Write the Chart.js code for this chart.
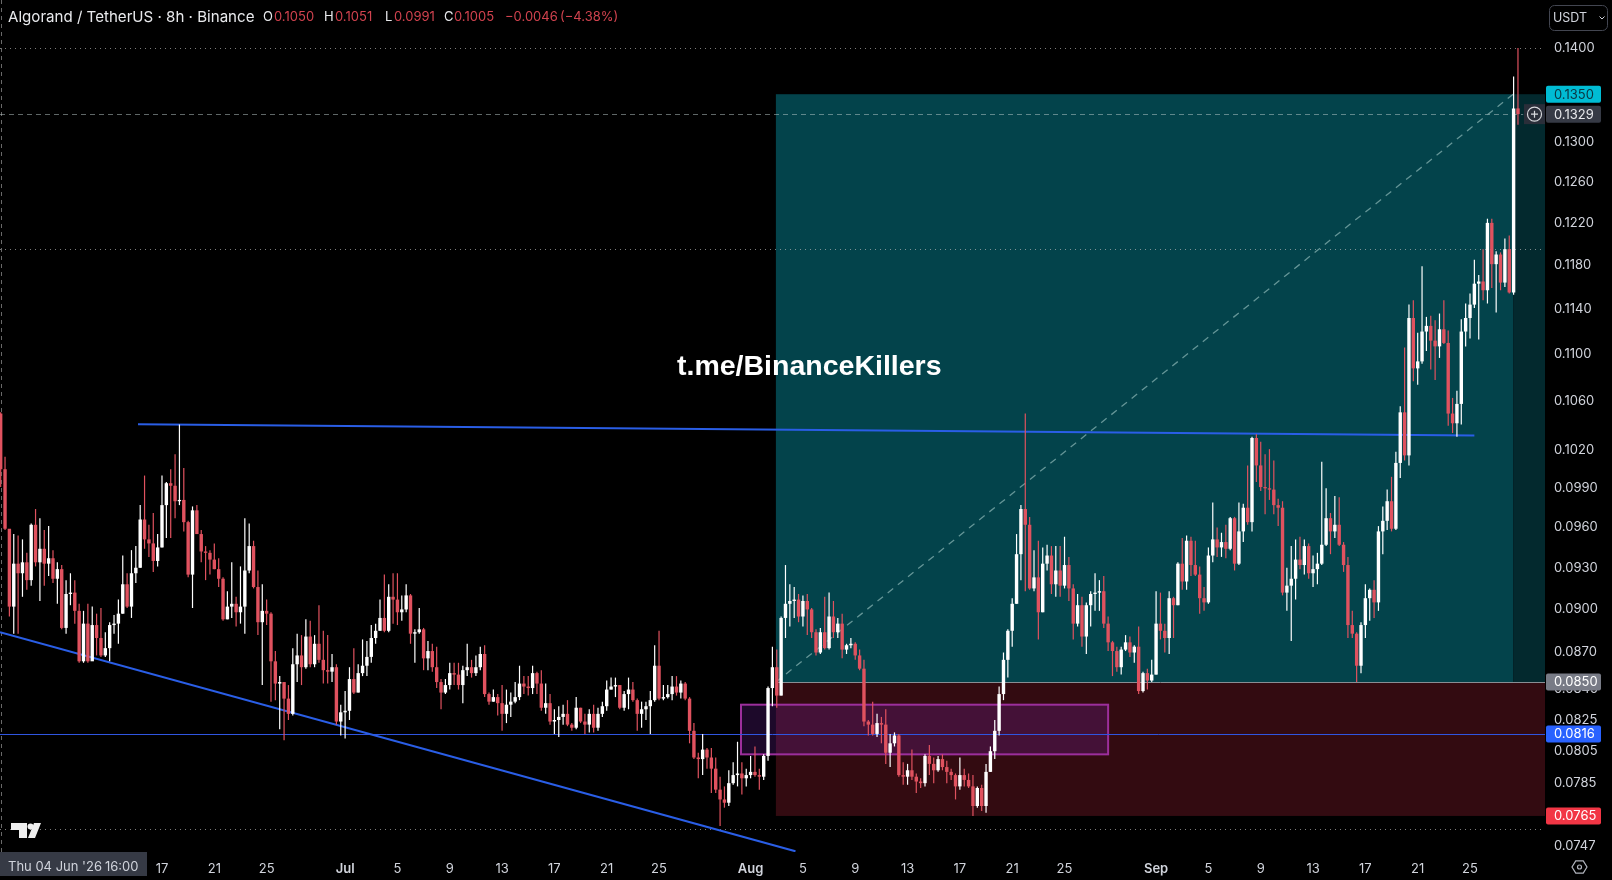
<!DOCTYPE html>
<html><head><meta charset="utf-8"><title>Algorand / TetherUS</title>
<style>html,body{margin:0;padding:0;background:#000;overflow:hidden}canvas{display:block}</style>
<script src="https://cdn.jsdelivr.net/npm/chart.js@4"></script></head>
<body><canvas id="c" width="1612" height="880" style="width:1612px;height:880px"></canvas>
<script>
// Prices are stored in units of 0.0001 USDT, one value per 8h candle
const PRICE_UNIT = 0.0001;
const firstOpen = 1050;
const closeUnits = [1005,959,902,933,926,934,921,962,934,944,933,937,922,929,887,911,912,899,864,890,864,889,880,868,873,889,890,897,918,902,926,930,966,951,948,935,945,977,994,992,980,981,964,925,973,955,942,941,936,929,922,893,902,904,898,902,928,946,916,891,899,897,864,849,850,839,829,862,868,860,881,862,876,865,858,857,860,824,830,831,852,843,856,861,867,880,885,894,885,909,907,898,900,910,883,884,886,866,871,860,850,843,848,856,855,848,858,860,856,860,869,842,837,840,836,829,835,837,840,849,847,846,856,849,833,836,824,825,827,829,822,820,833,824,822,829,820,829,834,845,847,848,833,842,845,838,829,832,834,838,861,839,840,842,847,843,849,839,818,801,800,806,801,794,781,775,773,785,790,791,788,790,792,790,789,802,846,860,841,894,904,906,907,895,906,900,884,870,884,873,895,884,890,872,875,876,868,859,824,822,816,823,822,804,810,815,790,789,793,789,786,785,802,797,793,800,795,792,790,783,790,787,783,771,782,771,792,805,818,842,865,885,904,940,974,962,915,923,898,933,939,918,928,917,932,915,890,903,881,903,911,912,913,890,877,871,860,872,877,870,874,844,856,851,855,890,885,880,908,903,933,920,950,932,925,908,905,939,951,945,949,944,967,933,957,975,964,1030,1008,991,990,989,977,975,912,917,922,936,932,946,926,929,933,947,967,957,962,947,932,889,883,861,889,908,914,905,957,965,980,959,1010,1051,1016,1132,1088,1094,1120,1125,1112,1107,1122,1110,1050,1042,1058,1120,1132,1144,1163,1165,1157,1220,1181,1190,1164,1195,1155,1335,1329];
const highUnits = [1051,1015,958,955,954,951,941,963,974,967,958,961,943,934,932,921,926,921,904,899,904,902,897,901,884,891,896,907,939,926,943,946,977,1000,962,971,955,1000,995,1005,1017,1041,1006,965,976,977,958,946,943,948,937,923,913,934,909,931,967,963,950,928,918,907,898,871,854,850,848,873,883,882,893,892,882,903,885,882,869,862,835,844,860,873,862,879,878,889,890,907,925,918,926,926,910,918,911,886,901,887,878,876,874,852,852,863,863,863,861,876,865,868,874,875,843,845,842,848,845,843,850,861,854,854,861,857,858,849,842,832,834,835,838,823,840,833,829,832,835,833,837,851,853,853,848,844,853,850,839,837,837,844,875,885,848,848,854,854,851,850,840,823,804,816,807,807,801,789,783,793,798,811,798,794,802,808,794,803,847,874,872,895,932,918,916,911,910,911,901,886,887,909,912,906,894,897,876,880,877,872,865,825,837,829,827,832,816,817,816,798,797,806,791,788,803,809,801,802,803,799,794,791,801,794,791,790,783,784,797,808,825,847,870,886,908,955,977,1050,968,943,950,945,947,946,946,946,953,938,918,911,909,905,913,926,921,924,895,878,874,874,882,881,875,888,857,859,865,913,912,890,913,909,934,952,954,953,950,931,916,945,979,960,956,962,968,968,979,978,1008,1031,1033,1027,1017,1021,1012,982,980,930,946,951,953,951,948,939,941,1011,990,971,984,983,949,938,899,884,891,918,915,921,961,976,989,999,1019,1056,1106,1144,1148,1119,1179,1133,1134,1130,1136,1148,1121,1063,1069,1131,1145,1154,1185,1171,1195,1224,1224,1193,1192,1205,1208,1369,1400];
const lowUnits = [991,958,895,883,883,909,914,917,931,906,917,924,919,904,886,883,903,890,863,863,863,865,868,867,867,864,883,876,897,901,894,919,930,944,938,927,931,945,952,952,967,977,957,923,901,955,934,921,925,929,916,892,893,894,888,890,883,926,915,882,848,889,837,838,819,812,825,828,850,848,859,860,860,863,849,849,850,822,815,813,825,842,843,854,854,863,876,885,884,884,890,889,892,898,876,863,883,858,858,857,846,832,842,845,848,845,836,854,853,854,858,840,835,837,828,818,823,827,836,838,842,841,842,842,831,829,822,816,814,822,821,818,819,823,816,817,817,818,827,831,845,840,832,831,832,837,818,820,825,816,837,838,838,839,838,841,839,838,810,800,788,790,794,779,779,759,770,771,784,783,778,783,788,789,781,787,799,834,833,841,880,888,894,891,888,882,880,868,869,872,872,880,880,866,869,873,865,858,821,815,815,814,810,797,795,808,789,784,784,787,779,782,783,790,785,792,793,785,787,775,781,783,782,765,770,768,767,792,800,815,838,853,874,904,921,913,914,913,879,898,928,911,909,909,915,906,879,888,874,869,888,899,899,887,871,854,857,855,871,867,863,842,843,845,850,855,879,870,869,880,903,914,914,924,924,897,899,904,934,938,938,937,943,928,932,949,962,957,995,988,970,981,970,961,910,899,878,907,929,925,922,916,918,932,946,940,952,946,927,880,880,850,856,880,892,894,899,940,958,957,958,998,1012,1008,1077,1074,1092,1103,1087,1078,1097,1109,1040,1034,1031,1041,1107,1114,1141,1113,1148,1145,1159,1137,1157,1160,1154,1153,1318];

const priceTicks = [0.14,0.13,0.126,0.122,0.118,0.114,0.11,0.106,0.102,0.099,0.096,0.093,0.09,0.087,0.0845,0.0825,0.0805,0.0785,0.0747];
const dayTickCandles = [37,49,61,79,91,103,115,127,139,151,172,184,196,208,220,232,244,265,277,289,301,313,325,337];
const dayTickLabels = ['17','21','25','Jul','5','9','13','17','21','25','Aug','5','9','13','17','21','25','Sep','5','9','13','17','21','25'];
const monthLabels = ['Jul','Aug','Sep'];

const target = 0.135, current = 0.1329, entry = 0.085, support = 0.0816, stop = 0.0765;
const dottedLevels = [0.14, 0.1195, 0.0757];
const positionStart = 177.8, positionEnd = 346.9;
const boxStart = 169.8, boxEnd = 254, boxHigh = 0.0835, boxLow = 0.0803;
const upperTrendX = [31.5, 338], upperTrendY = [0.10413, 0.1032];
const lowerTrendX = [-0.15, 182.3], lowerTrendY = [0.0884, 0.0744];

const UP = '#ffffff', DOWN = '#e0525f', FONT = 'Inter, "Noto Sans", sans-serif';
const closes = closeUnits.map(v => +(v * PRICE_UNIT).toFixed(4));
const highs = highUnits.map(v => +(v * PRICE_UNIT).toFixed(4));
const lows = lowUnits.map(v => +(v * PRICE_UNIT).toFixed(4));
const opens = closes.map((c, i) => i ? closes[i - 1] : firstOpen * PRICE_UNIT);
const colors = closes.map((c, i) => c >= opens[i] ? UP : DOWN);

const pairXY = (xs, ys) => xs.map((x, i) => ({x, y: ys[i]}));

const overlay = {
  id: 'overlay',
  beforeDatasetsDraw(chart) {
    const {ctx, chartArea: a, scales: {x, y}} = chart;
    const X = v => x.getPixelForValue(v), Y = v => y.getPixelForValue(v);
    ctx.save();
    // risk / reward zones
    ctx.fillStyle = '#03434b';
    ctx.fillRect(X(positionStart), Y(target), X(positionEnd) - X(positionStart), Y(entry) - Y(target));
    ctx.fillStyle = '#03292e';
    ctx.fillRect(X(positionEnd), Y(target), a.right - X(positionEnd), Y(entry) - Y(target));
    ctx.fillStyle = '#330b11';
    ctx.fillRect(X(positionStart), Y(entry), a.right - X(positionStart), Y(stop) - Y(entry));
    ctx.strokeStyle = '#8a8e94'; ctx.lineWidth = 1;
    hline(ctx, X(positionStart), a.right, Y(entry));
    // purple box
    ctx.fillStyle = 'rgba(130,40,190,0.22)';
    ctx.fillRect(X(boxStart), Y(boxHigh), X(boxEnd) - X(boxStart), Y(boxLow) - Y(boxHigh));
    ctx.strokeStyle = '#9c2f9c'; ctx.lineWidth = 2;
    ctx.strokeRect(X(boxStart), Y(boxHigh), X(boxEnd) - X(boxStart), Y(boxLow) - Y(boxHigh));
    // dotted levels
    ctx.strokeStyle = 'rgba(190,190,190,0.65)'; ctx.lineWidth = 1; ctx.setLineDash([1, 4]);
    dottedLevels.forEach(l => hline(ctx, a.left, a.right, Y(l)));
    // crosshair column
    ctx.strokeStyle = 'rgba(150,150,150,0.7)'; ctx.setLineDash([4, 4]);
    ctx.beginPath(); ctx.moveTo(1.5, 0); ctx.lineTo(1.5, a.bottom); ctx.stroke();
    // current price
    ctx.strokeStyle = 'rgba(190,205,205,0.5)'; ctx.setLineDash([5, 4]);
    hline(ctx, a.left, X(positionEnd) + 10, Y(current));
    // diagonal
    ctx.strokeStyle = 'rgba(125,170,170,0.8)'; ctx.lineWidth = 1.3; ctx.setLineDash([7, 6]);
    ctx.beginPath(); ctx.moveTo(X(positionStart), Y(entry)); ctx.lineTo(X(positionEnd), Y(target)); ctx.stroke();
    ctx.setLineDash([]);
    // horizontal support
    ctx.strokeStyle = '#2f55e0'; ctx.lineWidth = 1;
    hline(ctx, a.left, a.right, Y(support));
    ctx.restore();
  },
  afterDraw(chart) {
    const {ctx, chartArea: a, scales: {y}} = chart;
    ctx.save();
    ctx.textBaseline = 'middle';
    // price badges
    const badge = (v, bg, fg) => {
      const py = y.getPixelForValue(v);
      ctx.fillStyle = bg;
      rr(ctx, 1546, py - 8.5, 55, 17, 2); ctx.fill();
      ctx.fillStyle = fg; ctx.font = '13px ' + FONT; ctx.textAlign = 'left';
      ctx.fillText(v.toFixed(4), 1554, py + 0.5);
    };
    badge(target, '#00bcd4', '#0b3440');
    badge(current, '#363a45', '#e8e9ec');
    badge(entry, '#787b86', '#ffffff');
    badge(support, '#2962ff', '#ffffff');
    badge(stop, '#f23645', '#ffffff');
    // add-alert button
    const cy = y.getPixelForValue(current);
    ctx.fillStyle = '#2a2e39'; ctx.fillRect(1524, cy - 10, 21, 20);
    ctx.strokeStyle = '#d8d9dd'; ctx.lineWidth = 1.2;
    ctx.beginPath(); ctx.arc(1534.5, cy, 7, 0, 7); ctx.stroke();
    ctx.beginPath(); ctx.moveTo(1531, cy); ctx.lineTo(1538, cy); ctx.moveTo(1534.5, cy - 3.5); ctx.lineTo(1534.5, cy + 3.5); ctx.stroke();
    // currency button
    ctx.strokeStyle = '#434651'; ctx.lineWidth = 1;
    rr(ctx, 1549.5, 5.5, 58, 25, 5); ctx.stroke();
    ctx.fillStyle = '#d1d4dc'; ctx.font = '12.5px ' + FONT; ctx.textAlign = 'left';
    ctx.fillText('USDT', 1553, 18);
    ctx.strokeStyle = '#d1d4dc'; ctx.beginPath(); ctx.moveTo(1599.5, 16.5); ctx.lineTo(1602, 19); ctx.lineTo(1604.5, 16.5); ctx.stroke();
    // header
    ctx.fillStyle = '#e8e9ec'; ctx.font = '15.1px ' + FONT;
    ctx.fillText('Algorand / TetherUS · 8h · Binance', 8, 17);
    const red = '#d2434f';
    [['O', 263, '0.1050', 274], ['H', 324, '0.1051', 335], ['L', 385, '0.0991', 394], ['C', 444, '0.1005', 454]].forEach(r => {
      ctx.font = '13px ' + FONT;
      ctx.fillStyle = '#e8e9ec'; ctx.fillText(r[0], r[1], 17);
      ctx.fillStyle = red; ctx.fillText(r[2], r[3], 17);
    });
    ctx.fillStyle = red;
    ctx.fillText('−0.0046', 505, 17);
    ctx.fillText('(−4.38%)', 560, 17);
    // watermark
    ctx.fillStyle = '#ffffff'; ctx.font = 'bold 28.5px "Liberation Sans", Arial, sans-serif';
    ctx.fillText('t.me/BinanceKillers', 677, 367);
    // logo
    ctx.fillStyle = '#eeeeee';
    ctx.beginPath();
    ctx.moveTo(11, 823); ctx.lineTo(27, 823); ctx.lineTo(27, 838); ctx.lineTo(19, 838); ctx.lineTo(19, 830); ctx.lineTo(11, 830); ctx.closePath();
    ctx.moveTo(34, 823); ctx.lineTo(41, 823); ctx.lineTo(35, 838); ctx.lineTo(28, 838); ctx.closePath(); ctx.fill();
    ctx.beginPath(); ctx.arc(30.5, 826.5, 3, 0, 7); ctx.fill();
    // crosshair date box
    ctx.fillStyle = '#363a45'; ctx.fillRect(0, a.bottom, 147, 24);
    ctx.fillStyle = '#d1d4dc'; ctx.font = '13px ' + FONT;
    ctx.fillText("Thu 04 Jun '26", 8, 867); ctx.fillText('16:00', 105, 867);
    // settings hexagon
    ctx.strokeStyle = '#b2b5be'; ctx.lineWidth = 1.2; ctx.beginPath();
    for (let k = 0; k < 6; k++) { const t = k * Math.PI / 3; const hx = 1579.5 + 7.5 * Math.cos(t), hy = 867 + 7 * Math.sin(t); k ? ctx.lineTo(hx, hy) : ctx.moveTo(hx, hy); }
    ctx.closePath(); ctx.stroke();
    ctx.beginPath(); ctx.arc(1579.5, 867, 2, 0, 7); ctx.stroke();
    ctx.restore();
  }
};
function hline(ctx, x0, x1, py) { const p = Math.round(py) + 0.5; ctx.beginPath(); ctx.moveTo(x0, p); ctx.lineTo(x1, p); ctx.stroke(); }
function rr(ctx, x, y, w, h, r) { ctx.beginPath(); ctx.roundRect(x, y, w, h, r); }

new Chart(document.getElementById('c'), {
  data: { datasets: [
    { type: 'bar', label: 'Open/Close', order: 1, grouped: false, barThickness: 3.4, minBarLength: 1, inflateAmount: 0,
      data: closes.map((c, i) => ({x: i, y: [opens[i], c]})), backgroundColor: colors, borderWidth: 0 },
    { type: 'bar', label: 'High/Low', order: 2, grouped: false, barThickness: 1.2, inflateAmount: 0,
      data: closes.map((c, i) => ({x: i, y: [lows[i], highs[i]]})), backgroundColor: colors, borderWidth: 0 },
    { type: 'line', label: 'Upper trend', order: 3, data: pairXY(upperTrendX, upperTrendY), borderColor: '#2a5ee6', borderWidth: 2, pointRadius: 0 },
    { type: 'line', label: 'Lower trend', order: 3, data: pairXY(lowerTrendX, lowerTrendY), borderColor: '#2a5ee6', borderWidth: 2, pointRadius: 0 }
  ]},
  options: {
    responsive: false, devicePixelRatio: 1, animation: false,
    layout: { padding: 0 },
    plugins: { legend: { display: false }, tooltip: { enabled: false }, title: { display: false } },
    scales: {
      x: { type: 'linear', min: -0.154, max: 354.2, offset: false,
        grid: { display: false, drawTicks: false }, border: { display: false },
        afterBuildTicks: s => { s.ticks = dayTickCandles.map(v => ({value: v})); },
        afterFit: s => { s.height = 28; s.paddingLeft = 0; s.paddingRight = 0; },
        ticks: { autoSkip: false, maxRotation: 0, minRotation: 0, includeBounds: false, padding: 9, color: '#d1d4dc',
          font: c => ({ family: FONT, size: 13, weight: monthLabels.includes(dayTickLabels[dayTickCandles.indexOf(c.tick && c.tick.value)]) ? '600' : '400' }),
          callback: v => dayTickLabels[dayTickCandles.indexOf(v)] ?? '' } },
      y: { type: 'logarithmic', position: 'right', min: 0.07436, max: 0.14539,
        grid: { display: false, drawTicks: false }, border: { display: false },
        afterBuildTicks: s => { s.ticks = priceTicks.map(v => ({value: v})); },
        afterFit: s => { s.width = 67; s.paddingTop = 0; s.paddingBottom = 0; },
        ticks: { autoSkip: false, padding: 9, color: '#d1d4dc', font: { family: FONT, size: 13 }, callback: v => Number(v).toFixed(4) } }
    }
  },
  plugins: [overlay]
});
</script></body></html>
